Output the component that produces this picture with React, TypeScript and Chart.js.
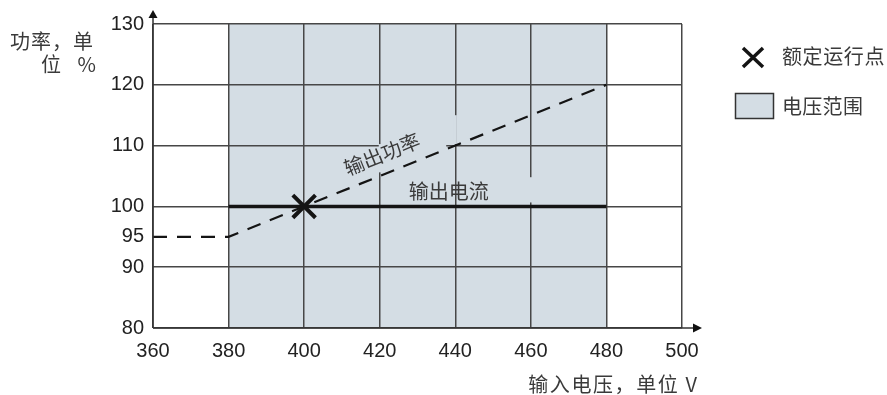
import React, { useEffect, useRef } from "react";
import { Chart, registerables } from "chart.js";

Chart.register(...registerables);

// ---- data ----
const xTicks = [360, 380, 400, 420, 440, 460, 480, 500];
const yTicks = [80, 90, 95, 100, 110, 120, 130];
const powerX = [360, 380, 480];
const powerY = [95, 95, 120];
const currentX = [380, 480];
const currentY = [100, 100];
const ratedPoint = [400, 100];
const voltageRange = [380, 480];
const seriesLabels = ["输出功率", "输出电流"];
const legendLabels = ["额定运行点", "电压范围"];
const xTitle = "输入电压，单位 V";
const yTitle = ["功率，单", "位 %"];
// label anchors in data units: [x, y]
const powerLabelAt = [420.6, 108.6];
const currentLabelAt = [438.3, 102.5];
// places where the grid is interrupted (data units): [x0, x1, y0, y1]
const gridGaps = [
  [419.75, 437.6, 105.6, 110.25],
  [439.6, 440.4, 110.25, 115],
  [459.6, 460.4, 100.65, 104.8],
];

const SHADE = "#d4dde4";
const GRID = "#474747";
const INK = "#141414";
const TEXT = "#3a3a3a";
const CJK = '"Noto Sans CJK SC", "Noto Sans", sans-serif';
const LATIN = '"Liberation Sans", Arial, sans-serif';

function spacedText(ctx: any, text: string, x: number, y: number, spacing: number, align: string) {
  ctx.letterSpacing = `${spacing}px`;
  ctx.textAlign = align;
  // compensate trailing spacing for right alignment
  ctx.fillText(text, align === "right" ? x + spacing : x, y);
  ctx.letterSpacing = "0px";
}

const drawPlugin = {
  id: "decor",
  beforeDraw(chart: any) {
    const { ctx, scales } = chart;
    const x = scales.x, y = scales.y;
    const x0 = x.getPixelForValue(voltageRange[0]);
    const x1 = x.getPixelForValue(voltageRange[1]);
    const yT = y.getPixelForValue(y.max);
    const yB = y.getPixelForValue(y.min);
    ctx.save();
    ctx.fillStyle = SHADE;
    ctx.fillRect(x0, yT, x1 - x0, yB - yT);
    ctx.restore();
  },
  beforeDatasetsDraw(chart: any) {
    const { ctx, scales } = chart;
    const x = scales.x, y = scales.y;
    ctx.save();
    ctx.fillStyle = SHADE;
    gridGaps.forEach(([a, b, c, d]) => {
      const px0 = x.getPixelForValue(a);
      const px1 = x.getPixelForValue(b);
      const py0 = y.getPixelForValue(d);
      const py1 = y.getPixelForValue(c);
      ctx.fillRect(px0, py0, px1 - px0, py1 - py0);
    });
    ctx.restore();
  },
  afterDraw(chart: any) {
    const { ctx, scales, chartArea } = chart;
    const x = scales.x, y = scales.y;
    ctx.save();
    // axes with arrows
    ctx.strokeStyle = "#333";
    ctx.fillStyle = "#111";
    ctx.lineWidth = 1.5;
    const left = chartArea.left, bottom = chartArea.bottom;
    ctx.beginPath();
    ctx.moveTo(left, bottom);
    ctx.lineTo(left, chartArea.top - 8);
    ctx.moveTo(left, bottom);
    ctx.lineTo(chartArea.right + 12, bottom);
    ctx.stroke();
    ctx.beginPath();
    ctx.moveTo(left, chartArea.top - 14);
    ctx.lineTo(left - 4.5, chartArea.top - 6);
    ctx.lineTo(left + 4.5, chartArea.top - 6);
    ctx.closePath();
    ctx.fill();
    ctx.beginPath();
    ctx.moveTo(chartArea.right + 20, bottom);
    ctx.lineTo(chartArea.right + 11, bottom - 4.5);
    ctx.lineTo(chartArea.right + 11, bottom + 4.5);
    ctx.closePath();
    ctx.fill();

    // series labels
    ctx.fillStyle = TEXT;
    ctx.font = `20px ${CJK}`;
    ctx.textAlign = "center";
    ctx.textBaseline = "middle";
    const ax = x.getPixelForValue(powerX[1]);
    const ay = y.getPixelForValue(powerY[1]);
    const bx = x.getPixelForValue(powerX[2]);
    const by = y.getPixelForValue(powerY[2]);
    const ang = Math.atan2(by - ay, bx - ax);
    ctx.save();
    ctx.translate(x.getPixelForValue(powerLabelAt[0]), y.getPixelForValue(powerLabelAt[1]));
    ctx.rotate(ang);
    ctx.fillText(seriesLabels[0], 0, 0);
    ctx.restore();
    ctx.fillText(seriesLabels[1], x.getPixelForValue(currentLabelAt[0]), y.getPixelForValue(currentLabelAt[1]));

    // axis titles
    spacedText(ctx, yTitle[0], 93, 41, 1, "right");
    spacedText(ctx, yTitle[1], 96, 64, 6, "right");
    spacedText(ctx, xTitle, 697, 384, 1.6, "right");

    // legend
    ctx.strokeStyle = INK;
    ctx.lineWidth = 3.5;
    ctx.beginPath();
    ctx.moveTo(743, 48);
    ctx.lineTo(763, 67);
    ctx.moveTo(763, 48);
    ctx.lineTo(743, 67);
    ctx.stroke();
    ctx.fillStyle = SHADE;
    ctx.fillRect(735.5, 93.5, 38, 25);
    ctx.strokeStyle = "#333";
    ctx.lineWidth = 1.5;
    ctx.strokeRect(735.5, 93.5, 38, 25);
    ctx.fillStyle = TEXT;
    spacedText(ctx, legendLabels[0], 782, 56, 0.6, "left");
    spacedText(ctx, legendLabels[1], 782, 106, 0.3, "left");
    ctx.restore();
  },
};

export default function App() {
  const ref = useRef<HTMLCanvasElement | null>(null);
  useEffect(() => {
    if (!ref.current) return;
    const tickFont = { family: LATIN, size: 20 };
    const chart = new Chart(ref.current, {
      type: "scatter",
      data: {
        datasets: [
          {
            label: "rated",
            data: [{ x: ratedPoint[0], y: ratedPoint[1] }],
            showLine: false,
            pointStyle: "crossRot",
            pointRadius: 16,
            pointBorderWidth: 4,
            borderColor: INK,
            backgroundColor: INK,
            order: 0,
          },
          {
            label: "current",
            data: currentX.map((v, i) => ({ x: v, y: currentY[i] })),
            showLine: true,
            borderColor: INK,
            borderWidth: 3.5,
            pointRadius: 0,
            order: 1,
          },
          {
            label: "power",
            data: powerX.map((v, i) => ({ x: v, y: powerY[i] })),
            showLine: true,
            borderColor: INK,
            borderWidth: 2.2,
            borderDash: [14, 10],
            pointRadius: 0,
            order: 2,
          },
        ],
      },
      options: {
        animation: false,
        responsive: false,
        layout: { padding: { top: 24, right: 205, left: 0, bottom: 0 } },
        plugins: { legend: { display: false }, tooltip: { enabled: false } },
        scales: {
          x: {
            type: "linear",
            min: xTicks[0],
            max: xTicks[xTicks.length - 1],
            afterBuildTicks: (s: any) => {
              s.ticks = xTicks.map((v) => ({ value: v }));
            },
            afterFit: (s: any) => {
              s.height = 67;
            },
            grid: { color: GRID, lineWidth: 1.5, drawTicks: false },
            border: { display: false },
            ticks: { padding: 11, color: "#222", font: tickFont, autoSkip: false, maxRotation: 0 },
          },
          y: {
            type: "linear",
            min: yTicks[0],
            max: yTicks[yTicks.length - 1],
            afterBuildTicks: (s: any) => {
              s.ticks = yTicks.map((v) => ({ value: v }));
            },
            afterFit: (s: any) => {
              s.width = 153;
            },
            grid: {
              color: (c: any) => (c.tick && c.tick.value === 95 ? "rgba(0,0,0,0)" : GRID),
              lineWidth: 1.5,
              drawTicks: false,
            },
            border: { display: false },
            ticks: { padding: 9, color: "#222", font: tickFont, autoSkip: false },
          },
        },
      },
      plugins: [drawPlugin],
    } as any);
    return () => chart.destroy();
  }, []);
  return (
    <div style={{ position: "absolute", left: 0, top: 0, width: 887, height: 395, background: "#fff" }}>
      <canvas ref={ref} width={887} height={395} style={{ display: "block" }} />
    </div>
  );
}
